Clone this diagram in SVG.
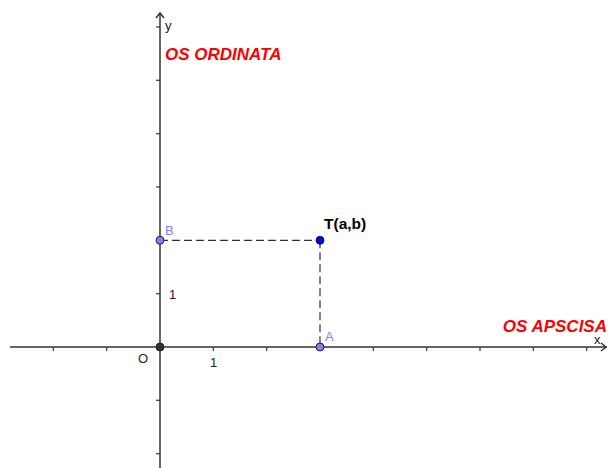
<svg xmlns="http://www.w3.org/2000/svg" width="608" height="468" viewBox="0 0 608 468">
<style>
.axis{stroke:#333;stroke-width:1.5;fill:none}
.tick{stroke:#333;stroke-width:1.2}
.dash{stroke:#333;stroke-width:1.2;stroke-dasharray:8 4;fill:none}
.lab{font-family:"Liberation Sans",Arial,sans-serif;font-size:13px;fill:#222}
.plab{font-family:"Liberation Sans",Arial,sans-serif;font-size:13px;fill:#7f7fff}
.red{font-family:"Liberation Sans",Arial,sans-serif;font-size:17px;font-weight:bold;font-style:italic;fill:#ff0000}
.pt{stroke:#222;stroke-width:1}
</style>
<rect width="608" height="468" fill="#fff"/>
<g id="axes">
<line class="axis" x1="10" y1="347" x2="607" y2="347"/>
<polyline class="axis" points="601,343 606,347 601,351"/>
<line class="axis" x1="160" y1="13" x2="160" y2="468"/>
<polyline class="axis" points="156,18 160,13 164,18"/>
<g class="tick">
<line x1="53.3" y1="347" x2="53.3" y2="351"/>
<line x1="106.7" y1="347" x2="106.7" y2="351"/>
<line x1="213.3" y1="347" x2="213.3" y2="351"/>
<line x1="266.7" y1="347" x2="266.7" y2="351"/>
<line x1="373.3" y1="347" x2="373.3" y2="351"/>
<line x1="426.7" y1="347" x2="426.7" y2="351"/>
<line x1="480" y1="347" x2="480" y2="351"/>
<line x1="533.3" y1="347" x2="533.3" y2="351"/>
<line x1="586.7" y1="347" x2="586.7" y2="351"/>
<line x1="156" y1="27" x2="160" y2="27"/>
<line x1="156" y1="80.3" x2="160" y2="80.3"/>
<line x1="156" y1="133.7" x2="160" y2="133.7"/>
<line x1="156" y1="187" x2="160" y2="187"/>
<line x1="156" y1="293.7" x2="160" y2="293.7"/>
<line x1="156" y1="400.3" x2="160" y2="400.3"/>
<line x1="156" y1="453.7" x2="160" y2="453.7"/>
</g>
<text class="lab" x="594" y="344" font-size="10">x</text>
<text class="lab" x="165" y="30" font-size="11">y</text>
<text class="lab" x="169" y="299">1</text>
<text class="lab" x="210" y="367">1</text>
<text class="lab" x="138" y="363">O</text>
</g>
<g id="connectors">
<line class="dash" x1="160" y1="240.3" x2="320" y2="240.3"/>
<line class="dash" x1="320" y1="240.3" x2="320" y2="347"/>
</g>
<g id="O"><circle class="pt" cx="160" cy="347" r="4" fill="#333"/></g>
<g id="A"><circle class="pt" cx="320" cy="347" r="4" fill="#7f7fff"/><text class="plab" x="325" y="341">A</text></g>
<g id="B"><circle class="pt" cx="160" cy="240.3" r="4" fill="#7f7fff"/><text class="plab" x="165" y="235">B</text></g>
<g id="T"><circle class="pt" cx="320" cy="240.3" r="4" fill="#0000ff"/><text x="324" y="228.5" font-family="Liberation Sans,Arial,sans-serif" font-size="15.5" font-weight="bold" fill="#000">T(a,b)</text></g>
<text class="red" x="165" y="59.5">OS ORDINATA</text>
<text class="red" x="607" y="332" text-anchor="end">OS APSCISA</text>
</svg>
